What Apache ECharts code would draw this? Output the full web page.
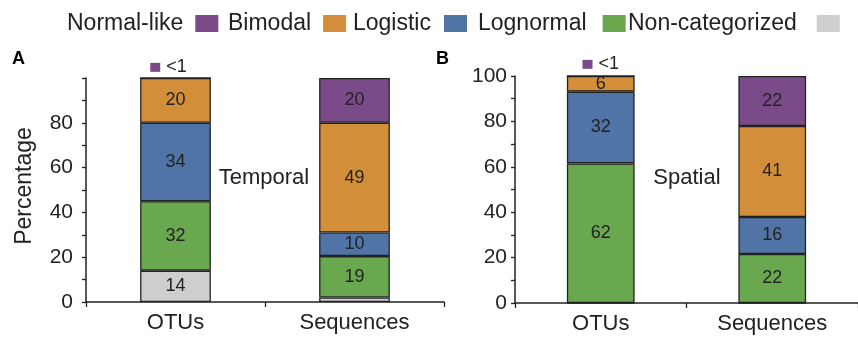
<!DOCTYPE html>
<html>
<head>
<meta charset="utf-8">
<script src="https://cdn.jsdelivr.net/npm/echarts@6/dist/echarts.min.js"></script>
<style>
html,body{margin:0;padding:0;background:#fff;}
#c{width:858px;height:337px;}
</style>
</head>
<body>
<div id="c"></div>
<script>
// ---- data ----
var categories = ['OTUs', 'Sequences'];
// stacked bottom -> top
var seriesNames = ['Non-categorized', 'Lognormal', 'Logistic', 'Bimodal', 'Normal-like'];
var legendOrder = ['Normal-like', 'Bimodal', 'Logistic', 'Lognormal', 'Non-categorized'];
var colors = ['#cdcece', '#6aa84f', '#4f74a5', '#d38e39', '#7b4a89'];

// Panel A (Temporal): bar heights
var temporalNonCat = [14, 2];
var temporalLognormal = [31, 18.5];
var temporalLogistic = [35, 10.5];
var temporalBimodal = [20, 49];
var temporalNormal = [0, 20];
// printed labels
var temporalNonCatLbl = ['14', ''];
var temporalLognormalLbl = ['32', '19'];
var temporalLogisticLbl = ['34', '10'];
var temporalBimodalLbl = ['20', '49'];
var temporalNormalLbl = ['<1', '20'];

// Panel B (Spatial)
var spatialNonCat = [0, 0];
var spatialLognormal = [61.5, 21.6];
var spatialLogistic = [31.6, 16.3];
var spatialBimodal = [6.9, 40.1];
var spatialNormal = [0, 22];
var spatialNonCatLbl = ['', ''];
var spatialLognormalLbl = ['62', '22'];
var spatialLogisticLbl = ['32', '16'];
var spatialBimodalLbl = ['6', '41'];
var spatialNormalLbl = ['<1', '22'];

var yTicks = [0, 20, 40, 60, 80, 100];

// ---- build ----
var FONT = "'Liberation Sans', Arial, Helvetica, sans-serif";
var INK = '#222';
var purple = colors[4];

var temporalValues = [temporalNonCat, temporalLognormal, temporalLogistic, temporalBimodal, temporalNormal];
var temporalLabels = [temporalNonCatLbl, temporalLognormalLbl, temporalLogisticLbl, temporalBimodalLbl, temporalNormalLbl];
var spatialValues = [spatialNonCat, spatialLognormal, spatialLogistic, spatialBimodal, spatialNormal];
var spatialLabels = [spatialNonCatLbl, spatialLognormalLbl, spatialLogisticLbl, spatialBimodalLbl, spatialNormalLbl];

function makeSeries(values, labels, gi, noteOffset, noteDist) {
  return seriesNames.map(function (name, si) {
    return {
      name: name,
      type: 'bar',
      stack: 'g' + gi,
      xAxisIndex: gi,
      yAxisIndex: gi,
      barWidth: '39.5%',
      itemStyle: { color: colors[si], borderColor: INK, borderWidth: 1.3 },
      label: {
        show: true, position: 'inside', color: INK, fontSize: 18, fontFamily: FONT,
        formatter: function (p) { return labels[si][p.dataIndex]; }
      },
      data: values[si].map(function (v, di) {
        var item = { value: v };
        if (labels[si][di] === '<1') {
          item.label = {
            show: true, position: 'top', distance: noteDist, offset: [noteOffset, 0],
            formatter: '{sq|}{t|<1}',
            rich: {
              sq: { width: 10, height: 9, backgroundColor: purple },
              t: { fontSize: 18, color: INK, fontFamily: FONT, padding: [0, 0, 0, 6] }
            }
          };
        }
        return item;
      })
    };
  });
}

function yAxis(gi, showMax, margin, name) {
  return {
    type: 'value', gridIndex: gi, min: 0, max: 100, interval: 10,
    name: name || '', nameLocation: 'middle', nameGap: 50, nameRotate: 90,
    nameTextStyle: { fontSize: 23, color: INK, fontFamily: FONT, padding: [0, 0, 0, 8] },
    axisLine: { show: true, lineStyle: { color: INK, width: 1.5 } },
    axisTick: { show: true, length: 4, lineStyle: { color: INK, width: 1.3 } },
    splitLine: { show: false },
    axisLabel: {
      fontSize: 21, color: INK, fontFamily: FONT, margin: margin,
      formatter: function (v) {
        if (yTicks.indexOf(v) < 0) return '';
        if (v === 100 && !showMax) return '';
        return String(v);
      }
    }
  };
}

function xAxis(gi) {
  return {
    type: 'category', gridIndex: gi, data: categories,
    axisLine: { lineStyle: { color: INK, width: 1.5 } },
    axisTick: { show: true, length: 5, lineStyle: { color: INK, width: 1.3 } },
    axisLabel: { fontSize: 22, color: INK, fontFamily: FONT, margin: 10 }
  };
}

// legend: one component per entry (text followed by its swatch)
var legendLefts = [67, 228, 353, 478, 628];
var legendPadRight = [7, 7, 8, 11, 15];
var legends = legendOrder.map(function (n, i) {
  return {
    left: legendLefts[i], top: 12, padding: 0, itemGap: 0, align: 'right',
    itemWidth: 23, itemHeight: 17, icon: 'rect',
    itemStyle: { borderWidth: 0 },
    formatter: '{t|{name}}',
    textStyle: {
      fontSize: 23, color: INK, fontFamily: FONT,
      rich: { t: { fontSize: 23, color: INK, fontFamily: FONT, padding: [0, legendPadRight[i], 0, 0] } }
    },
    data: [n]
  };
});

var option = {
  animation: false,
  textStyle: { fontFamily: FONT },
  legend: legends,
  grid: [
    { left: 86, top: 78, right: 414, bottom: 35 },
    { left: 515, top: 76, right: -11, bottom: 34 }
  ],
  xAxis: [xAxis(0), xAxis(1)],
  yAxis: [yAxis(0, false, 13, 'Percentage'), yAxis(1, true, 8)],
  graphic: [
    { type: 'text', left: 12, top: 50, style: { text: 'A', fill: '#000', font: 'bold 18px ' + FONT } },
    { type: 'text', left: 436, top: 50, style: { text: 'B', fill: '#000', font: 'bold 18px ' + FONT } },
    { type: 'text', x: 264, y: 178, style: { text: 'Temporal', fill: INK, font: '22px ' + FONT, textAlign: 'center', textVerticalAlign: 'middle' } },
    { type: 'text', x: 687, y: 178, style: { text: 'Spatial', fill: INK, font: '22px ' + FONT, textAlign: 'center', textVerticalAlign: 'middle' } }
  ],
  series: makeSeries(temporalValues, temporalLabels, 0, -7, 1)
    .concat(makeSeries(spatialValues, spatialLabels, 1, 0, 2))
};

var chart = echarts.init(document.getElementById('c'), null, { renderer: 'canvas' });
chart.setOption(option);
</script>
</body>
</html>
